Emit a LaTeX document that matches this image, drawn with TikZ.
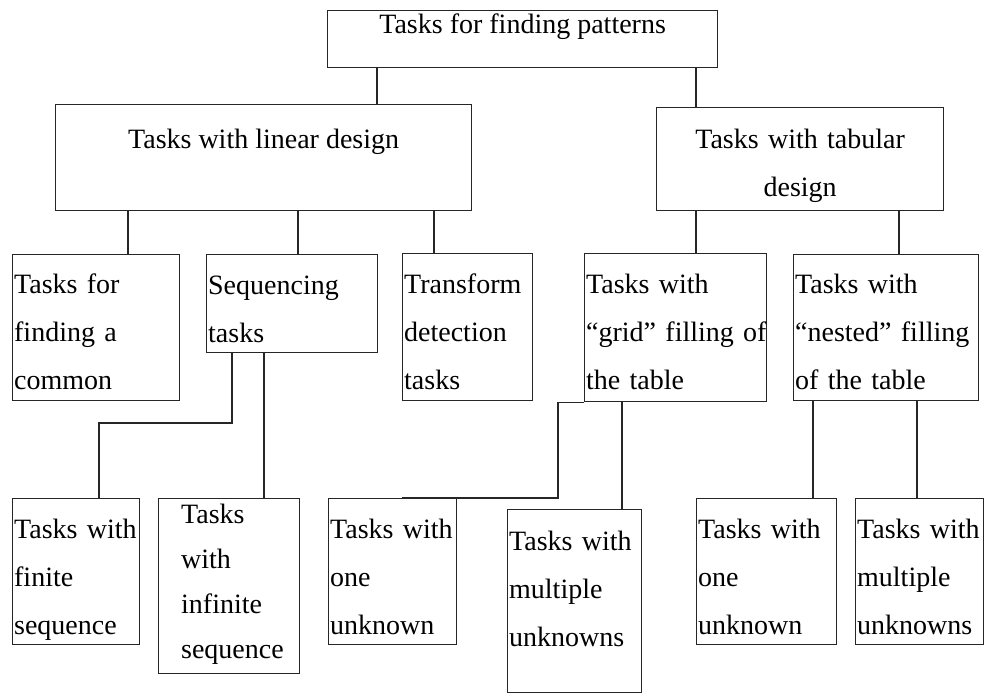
\documentclass[tikz,border=0pt]{standalone}
\usepackage{fontspec}
\setmainfont{Liberation Serif}
\newcommand{\ipad}{\hspace*{21pt}}
\begin{document}
\begin{tikzpicture}[x=1pt, y=-1pt, line width=1.3pt, draw=black!85,
    box/.style={draw, anchor=north west, inner xsep=1.5pt, inner ysep=0pt,
      text height=19pt, font=\fontsize{28}{48}\selectfont}]
\useasboundingbox (0,0) rectangle (984,693);
\node[box, minimum width=390pt, minimum height=57pt, text depth=30pt] (top) at (327,10) {Tasks for finding patterns};
\node[box, minimum width=416pt, minimum height=106pt, text depth=37pt] (linear) at (55,104) {Tasks with linear design};
\node[box, minimum width=287pt, minimum height=103pt, text width=284pt, align=center, text depth=40pt] (tabular) at (656,107) {Tasks with tabular\\design};
\node[box, minimum width=167pt, minimum height=146pt, text width=164pt, align=left, text depth=87pt] (common) at (12,254) {Tasks for\\finding a\\common};
\node[box, minimum width=171pt, minimum height=98pt, text width=168pt, align=left, text depth=37pt] (seq) at (206,254) {Sequencing\\tasks};
\node[box, minimum width=130pt, minimum height=147pt, text width=127pt, align=left, text depth=86pt] (transform) at (402,253) {Transform\\detection\\tasks};
\node[box, minimum width=182pt, minimum height=148pt, text width=179pt, align=left, text depth=87pt] (grid) at (584,253) {Tasks with\\\mbox{“grid” filling of}\\the table};
\node[box, minimum width=185pt, minimum height=146pt, text width=182pt, align=left, text depth=87pt] (nested) at (793,254) {Tasks with\\\mbox{“nested” filling}\\of the table};
\node[box, minimum width=127pt, minimum height=146pt, text width=124pt, align=left, text depth=85pt] (finite) at (12,498) {Tasks with\\finite\\sequence};
\node[box, minimum width=141pt, minimum height=175pt, text width=138pt, align=left, text depth=144pt, font=\fontsize{28}{45}\selectfont] (infinite) at (158,498) {\ipad Tasks\\\ipad with\\\ipad infinite\\\ipad sequence};
\node[box, minimum width=128pt, minimum height=146pt, text width=125pt, align=left, text depth=85pt] (oneA) at (328,498) {Tasks with\\one\\unknown};
\node[box, minimum width=134pt, minimum height=183pt, text width=131pt, align=left, text depth=120pt] (multiA) at (507,509) {Tasks with\\multiple\\unknowns};
\node[box, minimum width=140pt, minimum height=146pt, text width=137pt, align=left, text depth=85pt] (oneB) at (696,498) {Tasks with\\one\\unknown};
\node[box, minimum width=128pt, minimum height=146pt, text width=125pt, align=left, text depth=85pt] (multiB) at (855,498) {Tasks with\\multiple\\unknowns};
\draw (377,0 |- top.south) -- (377,0 |- linear.north);
\draw (696,0 |- top.south) -- (696,0 |- tabular.north);
\draw (128,0 |- linear.south) -- (128,0 |- common.north);
\draw (298,0 |- linear.south) -- (298,0 |- seq.north);
\draw (434,0 |- linear.south) -- (434,0 |- transform.north);
\draw (696,0 |- tabular.south) -- (696,0 |- grid.north);
\draw (899,0 |- tabular.south) -- (899,0 |- nested.north);
\draw (232,0 |- seq.south) -- (232,423) -- (99,423) -- (99,0 |- finite.north);
\draw (264,0 |- seq.south) -- (264,0 |- infinite.north);
\draw (grid.south west) -- (558,0 |- grid.south) -- (558,0 |- oneA.north) -- (402,0 |- oneA.north);
\draw (622,0 |- grid.south) -- (622,0 |- multiA.north);
\draw (813,0 |- nested.south) -- (813,0 |- oneB.north);
\draw (917,0 |- nested.south) -- (917,0 |- multiB.north);
\end{tikzpicture}
\end{document}
